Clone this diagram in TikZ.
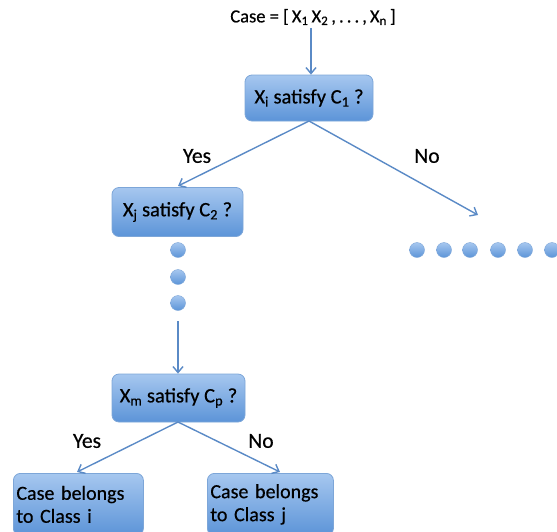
\documentclass[tikz,border=0pt]{standalone}
\usepackage{fontspec}
\setmainfont[FakeBold=0.5]{Carlito}
\usetikzlibrary{arrows.meta}
\definecolor{edgeblue}{HTML}{5A8AC6}
\definecolor{boxtop}{HTML}{A6C7EF}
\definecolor{boxbot}{HTML}{5C94D8}
\definecolor{boxline}{HTML}{7DA6D8}
\begin{document}
\begin{tikzpicture}[x=1pt,y=-1pt,
  box/.style={draw=boxline, line width=0.8pt, rounded corners=7pt, top color=boxtop, bottom color=boxbot, font=\fontsize{20.5}{23}\selectfont, inner sep=0pt},
  conn/.style={draw=edgeblue, line width=1.4pt, -{Straight Barb[length=6pt,width=10pt]}},
  lbl/.style={font=\fontsize{21.5}{24}\selectfont},
  dotc/.style={circle, minimum size=15pt, inner sep=0pt, draw=boxline, line width=0.4pt, top color=boxtop, bottom color=boxbot}]
\useasboundingbox (0,0) rectangle (557,531);
\clip (0,0) rectangle (557,531);
% nodes
\node[lbl, font=\fontsize{18.5}{22}\selectfont] (title) at (313,17) {Case = [\,X\textsubscript{1}\,X\textsubscript{2}\,,\,.\,.\,.\,,\,X\textsubscript{n}\,]};
\node[box, minimum width=128pt, minimum height=46pt] (b1) at (309,98) {X\textsubscript{i} satisfy C\textsubscript{1} ?};
\node[box, minimum width=131pt, minimum height=49pt] (b2) at (177.5,212) {X\textsubscript{j} satisfy C\textsubscript{2} ?};
\node[box, minimum width=133pt, minimum height=48pt] (b3) at (178.5,398) {X\textsubscript{m} satisfy C\textsubscript{p} ?};
\node[box, minimum width=130pt, minimum height=62pt, align=left, anchor=north west, text width=124pt, inner xsep=3pt, inner ysep=1pt, font=\fontsize{20}{23}\selectfont] (b4) at (13,473) {Case belongs\\to Class i};
\node[box, minimum width=126pt, minimum height=62pt, align=left, anchor=north west, text width=120pt, inner xsep=3pt, inner ysep=1pt, font=\fontsize{20}{23}\selectfont] (b5) at (207,473) {Case belongs\\to Class j};
% labels
\node[lbl] (yes1) at (197,156) {Yes};
\node[lbl] (no1) at (427,156) {No};
\node[lbl] (yes2) at (87,441) {Yes};
\node[lbl] (no2) at (261,441) {No};
% dots
\node[dotc] (d1) at (178,250) {};
\node[dotc] (d2) at (178,277) {};
\node[dotc] (d3) at (178,303) {};
\node[dotc] (r1) at (417,250) {};
\node[dotc] (r2) at (444,250) {};
\node[dotc] (r3) at (470,250) {};
\node[dotc] (r4) at (498,250) {};
\node[dotc] (r5) at (525,250) {};
\node[dotc] (r6) at (552,250) {};
% coordinates
\coordinate (t1) at (311,28);
\coordinate (b1s) at (309,121);
\coordinate (b2n) at (178,186);
\coordinate (noend) at (478,215);
\coordinate (dstart) at (178,321);
\coordinate (b3s) at (178,422);
\coordinate (b4n) at (77,472);
\coordinate (b5n) at (280,472);
% connectors
\draw[conn] (t1) -- (t1 |- b1.north);
\draw[conn] (b1s) -- (b2n);
\draw[conn] (b1s) -- (noend);
\draw[conn] (dstart) -- (dstart |- b3.north);
\draw[conn] (b3s) -- (b4n);
\draw[conn] (b3s) -- (b5n);
\end{tikzpicture}
\end{document}
